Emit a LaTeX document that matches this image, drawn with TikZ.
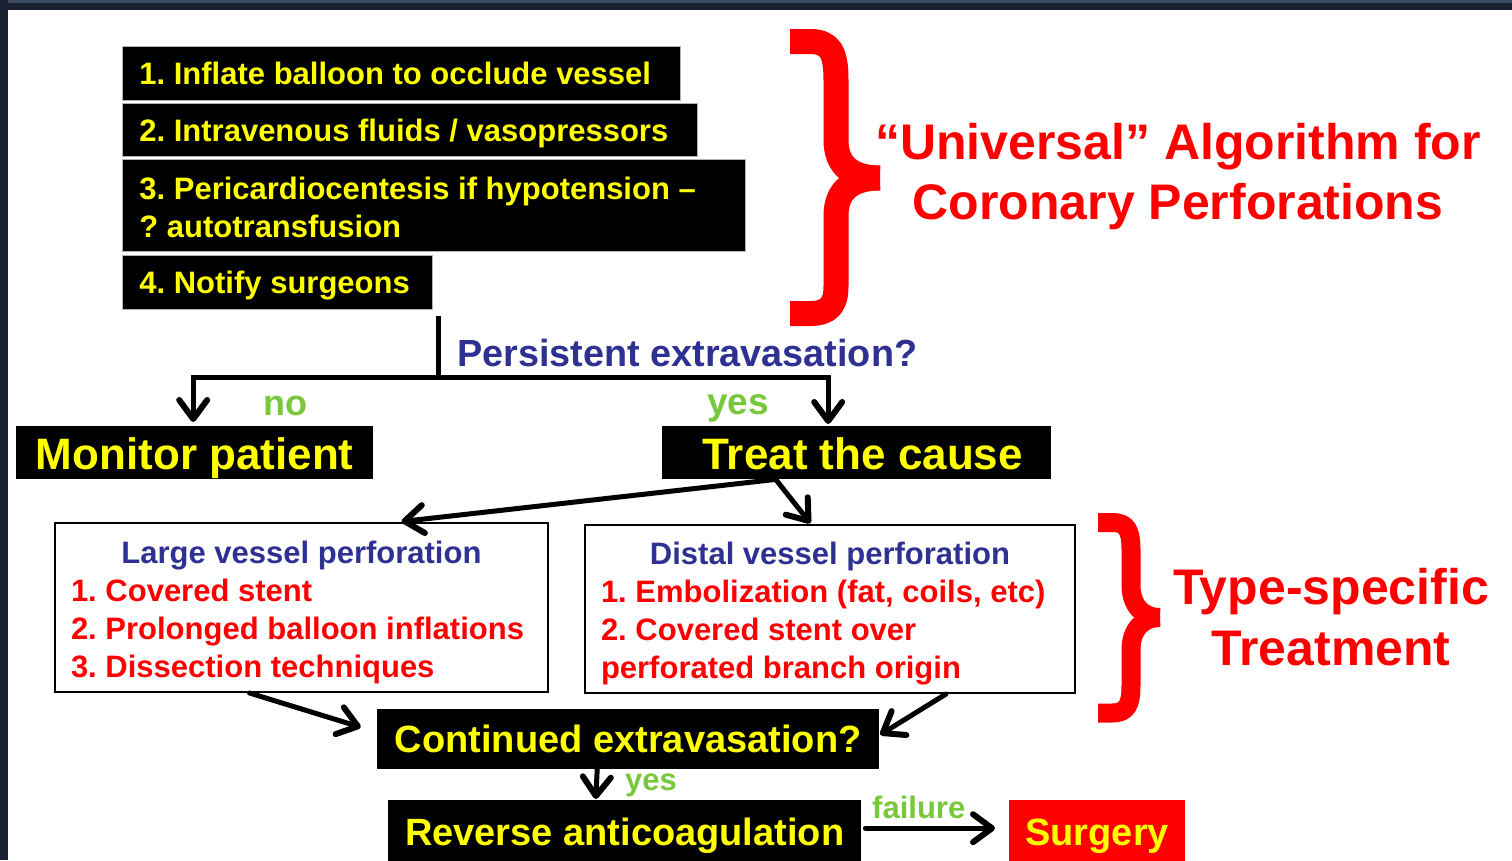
\documentclass[tikz,border=0pt]{standalone}
\usepackage{fontspec}
\setmainfont{Liberation Sans}
\usetikzlibrary{arrows.meta}
\definecolor{ylw}{HTML}{FFFF00}
\definecolor{rd}{HTML}{FF0000}
\definecolor{bl}{HTML}{2E3192}
\definecolor{gr}{HTML}{77C83A}
\definecolor{framedark}{HTML}{1A2231}
\definecolor{frametop}{HTML}{3A4A5F}
\frenchspacing
\newcommand{\lline}[2]{\makebox[#1][l]{#2}}
\newcommand{\rows}[1]{\begin{tabular}[t]{@{}l@{}}#1\end{tabular}}
\begin{document}
\begin{tikzpicture}[x=1pt,y=-1pt,
 blk/.style={fill=black, draw=gray!60, line width=0.8pt, text=ylw, font=\bfseries\fontsize{31}{38}\selectfont, anchor=north west, inner xsep=17pt, inner ysep=0pt},
 oneline/.style={text height=22.5pt, text depth=0pt},
 bigblk/.style={fill=black, text=ylw, font=\bfseries\fontsize{44}{50}\selectfont, anchor=north west, inner sep=0pt, text height=33pt, text depth=0pt},
 midblk/.style={fill=black, text=ylw, font=\bfseries\fontsize{38}{44}\selectfont, anchor=north west, inner sep=0pt, text height=27.5pt, text depth=0pt},
 wbox/.style={fill=white, draw=black, line width=2pt, anchor=north west, inner xsep=16pt, inner ysep=0pt, text=rd, font=\bfseries\fontsize{31}{38.3}\selectfont},
 arr/.style={line width=5pt, line cap=round, -{Straight Barb[length=19pt,width=28pt,line width=6pt 0,round]}},
 ttl/.style={text=rd, font=\bfseries\fontsize{50}{61}\selectfont, inner sep=0pt, anchor=base},
 lbl/.style={text=gr, inner sep=0pt, anchor=base west},
 bracestroke/.style={draw=rd, line cap=butt, line join=round}
]
\useasboundingbox (0,0) rectangle (1512,860);
\fill[white] (0,0) rectangle (1512,860);
\fill[framedark] (0,0) rectangle (1512,10);
\fill[frametop] (0,0) rectangle (1512,3);
\fill[framedark] (0,0) rectangle (8,860);

% top steps
\node[blk, oneline, minimum height=54pt] (b1) at (122,46) {\lline{524pt}{1. Inflate balloon to occlude vessel}};
\node[blk, oneline, minimum height=53pt] (b2) at (122,103) {\lline{541pt}{2. Intravenous fluids / vasopressors}};
\node[blk, text height=40pt, text depth=52pt] (b3) at (122,159) {\rows{\lline{589pt}{3. Pericardiocentesis if hypotension –}\\\lline{589pt}{? autotransfusion}}};
\node[blk, oneline, minimum height=54pt] (b4) at (122,255) {\lline{276pt}{4. Notify surgeons}};

% brace 1
\draw[bracestroke, line width=25pt] (790,41.5) -- (810,41.5) .. controls (830,41.5) and (836,52) .. (836,80) -- (836,140) .. controls (836,166) and (852,178) .. (880,178);
\draw[bracestroke, line width=25pt] (880,178) .. controls (852,178) and (836,190) .. (836,216) -- (836,286) .. controls (836,304) and (830,313.5) .. (810,313.5) -- (790,313.5);
\node[ttl] (t1) at (1178,159) {“Universal” Algorithm for};
\node[ttl] (t2) at (1178,219) {Coronary Perforations};

% decision 1
\node[lbl, text=bl, font=\bfseries\fontsize{37.8}{44}\selectfont] (q1) at (457,366) {Persistent extravasation?};
\node[bigblk, minimum width=357pt, minimum height=53pt] (mon) at (16,426) {Monitor patient};
\node[bigblk, minimum width=389pt, minimum height=53pt] (treat) at (662,426) {\hspace*{12pt}Treat the cause};
\coordinate (s) at (438,316);
\coordinate (j) at (438,377);
\draw[line width=5pt] (s) -- (j);
\draw[arr, shorten >=4pt] (j) -| ([xshift=-1.5pt]mon.north);
\draw[arr, shorten >=2pt] (j) -| ([xshift=-28.5pt]treat.north);
\node[lbl, font=\bfseries\fontsize{36}{42}\selectfont] (no) at (263,415) {no};
\node[lbl, font=\bfseries\fontsize{37}{42}\selectfont] (yes1) at (707,414) {yes};

% type-specific boxes
\node[wbox, text height=40pt, text depth=129pt] (large) at (54,522) {\rows{\makebox[461pt][c]{\color{bl}Large vessel perforation}\\\lline{461pt}{1. Covered stent}\\\lline{461pt}{2. Prolonged balloon inflations}\\\lline{461pt}{3. Dissection techniques}}};
\node[wbox, text height=39pt, text depth=129pt] (distal) at (584,524) {\rows{\makebox[458pt][c]{\color{bl}Distal vessel perforation}\\\lline{458pt}{1. Embolization (fat, coils, etc)}\\\lline{458pt}{2. Covered stent over}\\\lline{458pt}{perforated branch origin}}};
\draw[arr, shorten >=4pt] ([xshift=-81pt]treat.south) -- ([xshift=96pt]large.north);
\draw[arr, shorten >=1pt] ([xshift=-81pt]treat.south) -- ([xshift=-19pt]distal.north);

% brace 2
\draw[bracestroke, line width=19pt] (1098,522.5) -- (1112,522.5) .. controls (1127,522.5) and (1131,530) .. (1131,550) -- (1131,585) .. controls (1131,605) and (1142,617.5) .. (1160,617.5);
\draw[bracestroke, line width=19pt] (1160,617.5) .. controls (1142,617.5) and (1131,630) .. (1131,650) -- (1131,685) .. controls (1131,705) and (1127,713) .. (1112,713) -- (1098,713);
\node[ttl] (t3) at (1331,604) {Type-specific};
\node[ttl] (t4) at (1331,665) {Treatment};

% continued
\node[midblk, minimum width=502pt, minimum height=60pt] (cont) at (377,709) {Continued extravasation?};
\draw[arr, shorten >=17pt] ([xshift=-52pt]large.south) -- ([yshift=7pt]cont.west);
\draw[arr, shorten >=1pt] ([xshift=116pt]distal.south) -- ([yshift=4pt]cont.east);

% reverse / surgery
\node[midblk, minimum width=473pt, minimum height=64pt] (rev) at (388,800) {Reverse anticoagulation};
\node[midblk, fill=rd, minimum width=176pt, minimum height=64pt] (surg) at (1009,800) {Surgery};
\draw[arr, shorten >=1pt] ([xshift=-31pt]cont.south) -- ([xshift=-29pt]rev.north);
\node[lbl, font=\bfseries\fontsize{31}{36}\selectfont] (yes2) at (625,790) {yes};
\draw[arr, shorten >=14pt] ([xshift=4pt,yshift=4pt]rev.east) -- ([yshift=4pt]surg.west);
\node[lbl, font=\bfseries\fontsize{31}{36}\selectfont] (fail) at (872,818) {failure};
\end{tikzpicture}
\end{document}
